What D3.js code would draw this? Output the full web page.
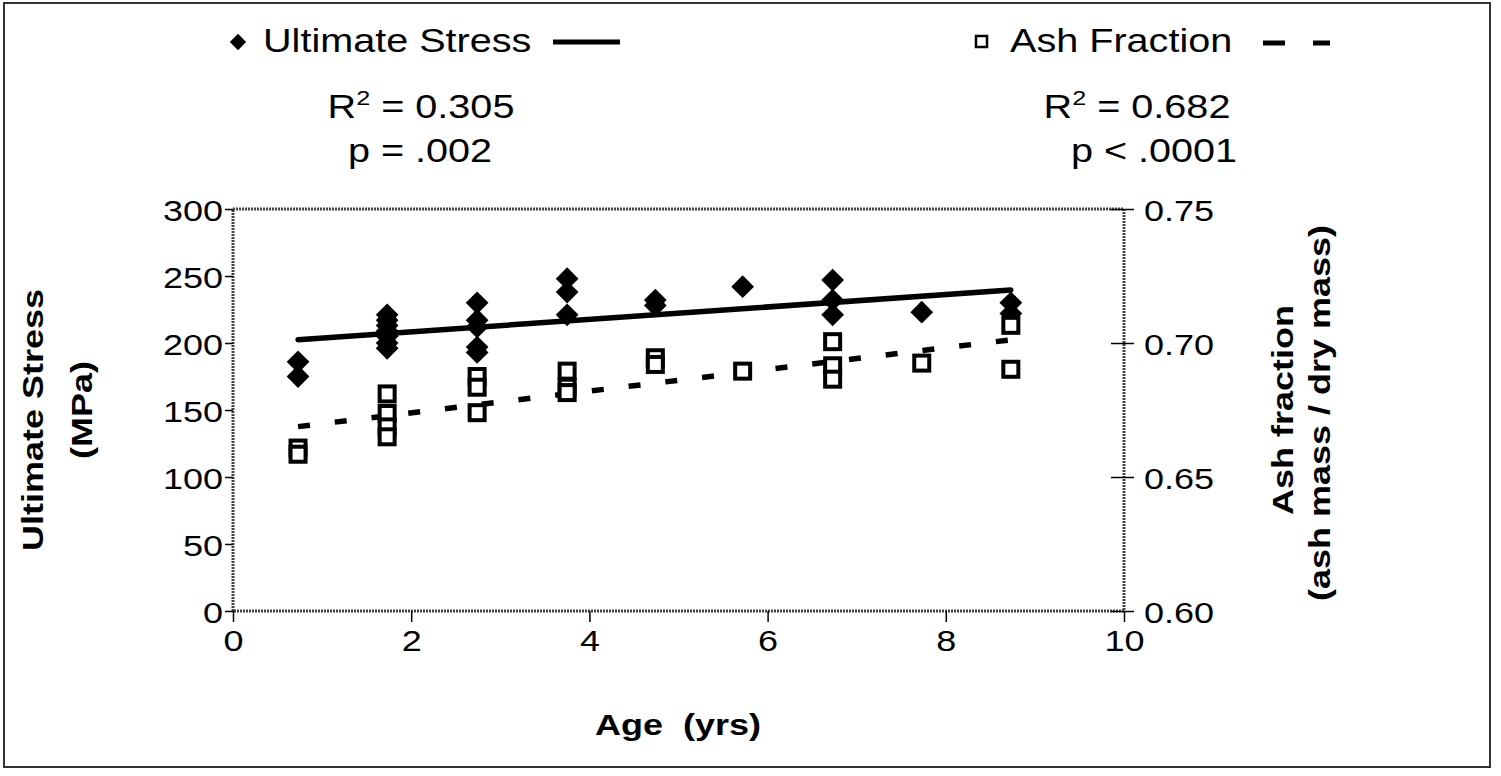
<!DOCTYPE html>
<html>
<head>
<meta charset="utf-8">
<script src="https://cdn.jsdelivr.net/npm/d3@7"></script>
<style>
  body { margin: 0; background: #fff; }
  text { font-family: "Liberation Sans", Arial, sans-serif; fill: #000; }
</style>
</head>
<body>
<div id="chart"></div>
<script>
// Data
const xTicks = [0, 2, 4, 6, 8, 10]
const yTicks = [0, 50, 100, 150, 200, 250, 300]
const y2Ticks = [0.60, 0.65, 0.70, 0.75]

const stressAge = [0.73, 0.73,
  1.73, 1.73, 1.73, 1.73, 1.73, 1.73, 1.73,
  2.74, 2.74, 2.74, 2.74, 2.74,
  3.75, 3.75, 3.75,
  4.74, 4.74,
  5.72,
  6.73, 6.73, 6.73,
  7.73,
  8.73, 8.73]
const stressVal = [186, 175,
  221, 217, 213, 209, 205, 200, 196,
  230, 217, 212, 197, 193,
  248, 238, 221,
  232, 228,
  242,
  247, 232, 221,
  223,
  230, 222]

const ashAge = [0.73, 0.73,
  1.73, 1.73, 1.73, 1.73,
  2.74, 2.74, 2.74,
  3.75, 3.75, 3.75,
  4.74, 4.74,
  5.72,
  6.73, 6.73, 6.73,
  7.73,
  8.73, 8.73]
const ashVal = [0.6608, 0.6585,
  0.6810, 0.6737, 0.6687, 0.6650,
  0.6875, 0.6835, 0.6740,
  0.6895, 0.6835, 0.6815,
  0.6945, 0.6920,
  0.6895,
  0.7005, 0.6915, 0.6865,
  0.6925,
  0.7066, 0.6902]

// trend line ends
const stressTrend = [[0.73, 202.5], [8.73, 239.5]]
const ashTrend = [[0.73, 0.6688], [8.73, 0.7012]]

const width = 1501
const height = 776
const stretch = 1.2

const svg = d3.select('#chart')
  .append('svg')
  .attr('width', width)
  .attr('height', height)

// outer frame
svg.append('rect')
  .attr('x', 4).attr('y', 3)
  .attr('width', 1486).attr('height', 764)
  .attr('fill', 'none')
  .attr('stroke', '#333')
  .attr('stroke-width', 2)

const plot = { left: 233, right: 1124, top: 209, bottom: 611 }

const x = d3.scaleLinear().domain([0, 10]).range([plot.left, plot.right])
const y = d3.scaleLinear().domain([0, 300]).range([plot.bottom, plot.top])
const y2 = d3.scaleLinear().domain([0.60, 0.75]).range([plot.bottom, plot.top])

// stretched text helper
function label(parent, px, py, txt, size, opts = {}) {
  const g = parent.append('g')
    .attr('transform', `translate(${px},${py})` + (opts.rotate ? ` rotate(${opts.rotate})` : '') + ` scale(${stretch},1)`)
  const t = g.append('text')
    .attr('text-anchor', opts.anchor || 'middle')
    .style('font-size', size + 'px')
    .style('font-weight', opts.bold ? 'bold' : 'normal')
    .text(txt)
  return t
}

// plot border (patterned look)
svg.append('rect')
  .attr('x', plot.left).attr('y', plot.top)
  .attr('width', plot.right - plot.left)
  .attr('height', plot.bottom - plot.top)
  .attr('fill', 'none')
  .attr('stroke', '#444')
  .attr('stroke-width', 3)
  .attr('stroke-dasharray', '2,1')

// axes
function styleAxis(g, dx, anchor, dyPx) {
  g.select('.domain').remove()
  g.selectAll('.tick line').attr('stroke', '#000').attr('stroke-width', 1.5)
  g.selectAll('.tick text')
    .attr('x', null).attr('y', null).attr('dy', null)
    .attr('text-anchor', anchor)
    .attr('transform', `translate(${dx},${dyPx}) scale(${stretch},1)`)
    .style('font-size', '30px')
    .style('fill', '#000')
}

const xAxisG = svg.append('g')
  .attr('transform', `translate(0,${plot.bottom})`)
  .call(d3.axisBottom(x).tickValues(xTicks).tickSize(11).tickFormat(d3.format('d')))
styleAxis(xAxisG, 0, 'middle', 40)

const yAxisG = svg.append('g')
  .attr('transform', `translate(${plot.left},0)`)
  .call(d3.axisLeft(y).tickValues(yTicks).tickSize(8).tickFormat(d3.format('d')))
styleAxis(yAxisG, -10, 'end', 11)

const y2AxisG = svg.append('g')
  .attr('transform', `translate(${plot.right},0)`)
  .call(d3.axisRight(y2).tickValues(y2Ticks).tickSize(10).tickFormat(d3.format('.2f')))
y2AxisG.selectAll('.tick line').attr('x1', -13)
styleAxis(y2AxisG, 20, 'start', 11)

// axis titles
label(svg, 678, 735, 'Age\u00a0 (yrs)', 30, { bold: true })
label(svg, 43, 420, 'Ultimate Stress', 30, { bold: true, rotate: -90 })
label(svg, 92, 410, '(MPa)', 30, { bold: true, rotate: -90 })
label(svg, 1293, 410, 'Ash fraction', 30, { bold: true, rotate: -90 })
label(svg, 1330, 413, '(ash mass / dry mass)', 30, { bold: true, rotate: -90 })

// trend lines
const lineStress = d3.line().x(d => x(d[0])).y(d => y(d[1]))
const lineAsh = d3.line().x(d => x(d[0])).y(d => y2(d[1]))

svg.append('path')
  .attr('d', lineStress(stressTrend))
  .attr('fill', 'none')
  .attr('stroke', '#000')
  .attr('stroke-width', 5.5)
  .attr('stroke-linecap', 'round')

svg.append('path')
  .attr('d', lineAsh(ashTrend))
  .attr('fill', 'none')
  .attr('stroke', '#000')
  .attr('stroke-width', 5.5)
  .attr('stroke-dasharray', '12,25')

// points
const diamond = d3.symbol().type(d3.symbolDiamond2).size(330)

svg.append('g').selectAll('path')
  .data(stressAge.map((a, i) => [a, stressVal[i]]))
  .enter()
  .append('path')
  .attr('d', diamond)
  .attr('transform', d => `translate(${x(d[0])},${y(d[1])})`)
  .attr('fill', '#000')

const sq = 15
svg.append('g').selectAll('rect')
  .data(ashAge.map((a, i) => [a, ashVal[i]]))
  .enter()
  .append('rect')
  .attr('x', d => x(d[0]) - sq / 2)
  .attr('y', d => y2(d[1]) - sq / 2)
  .attr('width', sq)
  .attr('height', sq)
  .attr('fill', '#fff')
  .attr('stroke', '#000')
  .attr('stroke-width', 4)

// legend
svg.append('path')
  .attr('d', d3.symbol().type(d3.symbolDiamond2).size(170))
  .attr('transform', 'translate(238,42)')
  .attr('fill', '#000')
label(svg, 263, 52, 'Ultimate Stress', 33, { anchor: 'start' })
svg.append('line')
  .attr('x1', 553).attr('x2', 620).attr('y1', 42).attr('y2', 42)
  .attr('stroke', '#000').attr('stroke-width', 5)

svg.append('rect')
  .attr('x', 976).attr('y', 36).attr('width', 11).attr('height', 11)
  .attr('fill', '#fff').attr('stroke', '#000').attr('stroke-width', 2.5)
label(svg, 1010, 52, 'Ash Fraction', 33, { anchor: 'start' })
svg.append('line')
  .attr('x1', 1263).attr('x2', 1330).attr('y1', 43).attr('y2', 43)
  .attr('stroke', '#000').attr('stroke-width', 5)
  .attr('stroke-dasharray', '22,28')

// regression stats
function rsq(px, py, val) {
  const t = label(svg, px, py, '', 33)
  t.append('tspan').text('R')
  t.append('tspan').attr('dy', -13).style('font-size', '21px').text('2')
  t.append('tspan').attr('dy', 13).text(' = ' + val)
}
rsq(421, 118, '0.305')
label(svg, 420, 162, 'p = .002', 33)
rsq(1137, 118, '0.682')
label(svg, 1154, 162, 'p < .0001', 33)
</script>
</body>
</html>
